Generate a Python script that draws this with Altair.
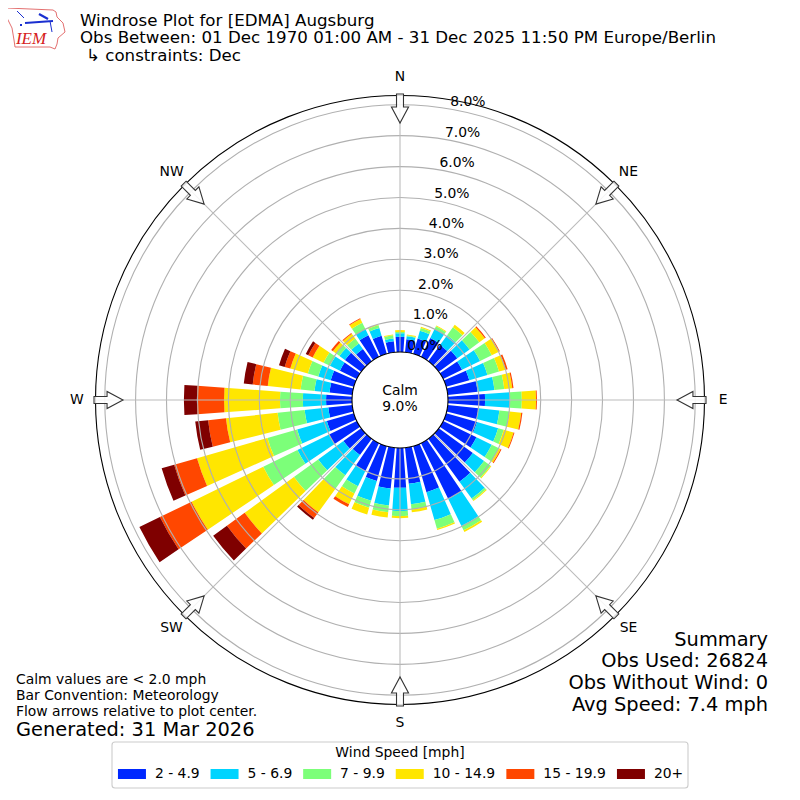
import math
import altair as alt
import pandas as pd

directions = list(range(0, 360, 10))
speeds = ["2 - 4.9", "5 - 6.9", "7 - 9.9", "10 - 14.9", "15 - 19.9", "20+"]
colors = ["#0028ff", "#00d4ff", "#7cff79", "#ffe600", "#ff4700", "#7f0000"]

# cumulative percent of observations at the top of each speed class, per direction
top_2 = [.49,.42,.52,.68,.65,.74,.68,.78,.97,1.20,1.00,1.04,1.20,1.36,1.72,2.01,1.55,1.17,1.29,1.33,1.17,1.00,.65,.71,1.00,.91,.78,.84,.74,.78,.61,.65,.49,.78,.61,.36]
top_5 = [.61,.52,.78,1.00,1.04,1.23,1.33,1.39,1.52,2.01,1.68,1.75,1.75,1.81,2.39,2.98,2.49,1.84,2.04,1.88,1.84,1.55,1.46,1.72,2.14,1.91,1.55,1.59,1.23,1.20,.97,.87,.71,1.00,.87,.45]
top_7 = [.65,.55,.87,1.10,1.36,1.62,1.75,1.78,1.84,2.39,2.01,1.94,2.01,2.07,2.46,3.14,2.78,2.01,2.20,2.10,2.07,1.81,2.01,2.69,3.37,2.91,2.43,2.33,1.68,1.55,1.20,1.00,.91,1.23,.97,.55]
top_10 = [.71,.58,.91,1.13,1.46,1.84,2.01,2.01,2.10,2.85,2.39,2.27,2.07,2.10,2.49,3.20,2.82,2.10,2.27,2.27,2.30,2.20,2.94,4.66,5.95,5.28,4.11,4.14,2.75,2.14,1.59,1.13,1.10,1.36,1.00,.58]
top_15 = [.71,.58,.91,1.13,1.46,1.88,2.04,2.07,2.14,2.88,2.43,2.30,2.10,2.10,2.49,3.20,2.82,2.10,2.27,2.27,2.30,2.30,3.17,5.37,7.09,6.05,4.69,5.02,3.24,2.33,1.75,1.20,1.13,1.39,1.00,.58]
top_20 = [.71,.58,.91,1.13,1.46,1.88,2.04,2.07,2.14,2.88,2.43,2.30,2.10,2.10,2.49,3.20,2.82,2.10,2.27,2.27,2.30,2.30,3.24,5.92,7.83,6.47,5.11,5.44,3.53,2.52,1.84,1.20,1.13,1.39,1.00,.58]

tick_values = [0, 1, 2, 3, 4, 5, 6, 7, 8]
compass = ["N", "NE", "E", "SE", "S", "SW", "W", "NW"]
compass_bearing = [0, 45, 90, 135, 180, 225, 270, 315]

title_lines = ["Windrose Plot for [EDMA] Augsburg",
               "Obs Between: 01 Dec 1970 01:00 AM - 31 Dec 2025 11:50 PM Europe/Berlin",
               "\u21b3 constraints: Dec"]
note_lines = ["Calm values are < 2.0 mph", "Bar Convention: Meteorology",
              "Flow arrows relative to plot center."]
summary_lines = ["Summary", "Obs Used: 26824", "Obs Without Wind: 0", "Avg Speed: 7.4 mph"]

FONT = "DejaVu Sans"
W = H = 784
CX = CY = 392
OFF = 8
R_MAX = 8.3
BAR = 8

th_scale = alt.Scale(domain=[0, 360], range=[0, 2 * math.pi])
r_scale = alt.Scale(type="linear", domain=[0, R_MAX], range=[48, 304.5], zero=False)

rows = []
tops = [top_2, top_5, top_7, top_10, top_15, top_20]
for i, d in enumerate(directions):
    low = 0
    for s, t in zip(speeds, tops):
        if t[i] > low:
            rows.append(dict(dir=d, a0=d - BAR / 2, a1=d + BAR / 2, speed=s, low=low, high=t[i]))
        low = t[i]
bars_df = pd.DataFrame(rows)

def th(f):
    return alt.Theta(f, type="quantitative", scale=th_scale, stack=None)

def rd(f):
    return alt.Radius(f, type="quantitative", scale=r_scale)

bars = alt.Chart(bars_df).mark_arc(strokeWidth=0).encode(
    theta=th("a0"), theta2="a1:Q", radius=rd("high"), radius2="low:Q",
    color=alt.Color("speed:N", scale=alt.Scale(domain=speeds, range=colors),
                    sort=speeds,
                    legend=alt.Legend(
                        orient="none", legendX=117, legendY=759, direction="horizontal",
                        columns=6, title=None,
                        labelFont=FONT, labelFontSize=13.9, labelColor="#000", labelOffset=16,
                        symbolType="M-2.8,-1H2.8V1H-2.8Z", symbolSize=100, symbolStrokeWidth=0,
                        columnPadding=9.6, rowPadding=0, padding=0, gridAlign="each")),
)

ring_df = pd.DataFrame({"v": [t for t in tick_values if t > 0], "a0": 0, "a1": 360})
rings = alt.Chart(ring_df).mark_arc(fillOpacity=0, stroke="#b0b0b0", strokeWidth=1.1).encode(
    theta=th("a0"), theta2="a1:Q", radius=rd("v"), radius2=alt.Radius2(value=0))

spoke_df = pd.DataFrame({"a": compass_bearing, "r0": 0.0, "r1": R_MAX})
spokes = alt.Chart(spoke_df).mark_arc(fillOpacity=0, stroke="#bcbcbc", strokeWidth=1.1).encode(
    theta=th("a"), theta2="a:Q", radius=rd("r1"), radius2="r0:Q")

outer_df = pd.DataFrame({"v": [R_MAX], "a0": [0], "a1": [360]})
outer = alt.Chart(outer_df).mark_arc(fillOpacity=0, stroke="black", strokeWidth=1.1).encode(
    theta=th("a0"), theta2="a1:Q", radius=rd("v"), radius2=alt.Radius2(value=0))

calm_df = pd.DataFrame({"v": [0], "a0": [0], "a1": [360]})
calm = alt.Chart(calm_df).mark_arc(fill="white", stroke="black", strokeWidth=1.1).encode(
    theta=th("a0"), theta2="a1:Q", radius=rd("v"), radius2=alt.Radius2(value=0))

tick_df = pd.DataFrame({"v": tick_values, "a": 10, "label": [f"{t:.1f}%" for t in tick_values]})
ticks = alt.Chart(tick_df).mark_text(font=FONT, fontSize=13.9, align="left", baseline="alphabetic",
                                     color="black", dx=-1, dy=-3).encode(
    theta=th("a"), radius=rd("v"), text="label:N")

comp_df = pd.DataFrame({"a": compass_bearing, "v": 8.9, "label": compass})
comp_text = alt.Chart(comp_df).mark_text(font=FONT, fontSize=13.9, align="center", baseline="middle", color="black").encode(
    theta=th("a"), radius=rd("v"), text="label:N")

ARROW_R = 291.5
arrow_path = "M-0.24,-1L0.24,-1L0.24,-0.1L0.59,-0.1L0,1L-0.59,-0.1L-0.24,-0.1Z"
arrow_df = pd.DataFrame({
    "x": [CX + ARROW_R * math.sin(math.radians(b)) for b in compass_bearing],
    "y": [CY - ARROW_R * math.cos(math.radians(b)) for b in compass_bearing],
    "a": compass_bearing})
arrows = alt.Chart(arrow_df).mark_point(
    shape=arrow_path, size=841, filled=True, fill="white", fillOpacity=0.85,
    stroke="#333333", strokeWidth=1.1, opacity=1).encode(
    x=alt.X("x:Q", scale=None, axis=None), y=alt.Y("y:Q", scale=None, axis=None),
    angle=alt.Angle("a:Q", scale=None))

def text_layer(lines, xs, ys, size, align="left"):
    df = pd.DataFrame({"x": [x - OFF for x in xs], "y": [y - OFF for y in ys], "t": lines})
    return alt.Chart(df).mark_text(font=FONT, fontSize=size, align=align, baseline="middle", color="black").encode(
        x=alt.X("x:Q", scale=None, axis=None), y=alt.Y("y:Q", scale=None, axis=None), text="t:N")

titles = text_layer(title_lines, [80, 80, 86], [21, 38, 56], 16.67)
notes = text_layer(note_lines, [16, 16, 16], [680, 696, 712], 13.9)
generated = text_layer(["Generated: 31 Mar 2026"], [16], [730], 19.4)
summary = text_layer(summary_lines, [768] * 4, [640, 661, 683, 705], 19.4, align="right")
calm_text = text_layer(["Calm", "9.0%"], [400, 400], [391, 407], 13.9, align="center")
legend_title = text_layer(["Wind Speed [mph]"], [400], [753], 13.9, align="center")

legend_box = alt.Chart(pd.DataFrame({"x": [112 - OFF], "x2": [688 - OFF], "y": [742 - OFF], "y2": [788 - OFF]})).mark_rect(
    fill="white", stroke="#cccccc", strokeWidth=1.1, cornerRadius=3).encode(
    x=alt.X("x:Q", scale=None, axis=None), x2="x2:Q", y=alt.Y("y:Q", scale=None, axis=None), y2="y2:Q")

# IEM logo
iowa = [(7, 8), (53, 10), (56, 12), (57, 17), (63, 23), (65, 32), (58, 38), (57, 44), (55, 49), (50, 47), (15, 47), (14, 40), (12, 28), (7, 18), (7, 8)]
logo_thin = [[(17, 11), (24, 18)], [(50, 21), (52, 32)]]
logo_thick = [[(25, 23), (53, 21)], [(39, 14), (48, 19)], [(20, 25), (22, 25)]]
def poly(pts, color, width):
    df = pd.DataFrame({"x": [p[0] - OFF for p in pts], "y": [p[1] - OFF for p in pts], "o": range(len(pts))})
    return alt.Chart(df).mark_line(color=color, strokeWidth=width, interpolate="linear").encode(
        x=alt.X("x:Q", scale=None, axis=None), y=alt.Y("y:Q", scale=None, axis=None), order="o:Q")
logo = [poly(iowa, "#e06060", 0.9)] + [poly(p, "#1a2fd0", 1) for p in logo_thin] + [poly(p, "#1a2fd0", 2.2) for p in logo_thick]
logo_text = alt.Chart(pd.DataFrame({"x": [31 - OFF], "y": [39 - OFF], "t": ["IEM"]})).mark_text(
    font="Liberation Serif", fontSize=17, fontStyle="italic", color="#d62020", align="center", baseline="middle").encode(
    x=alt.X("x:Q", scale=None, axis=None), y=alt.Y("y:Q", scale=None, axis=None), text="t:N")

chart = alt.layer(
    legend_box, bars, rings, spokes, outer, calm, arrows, ticks, comp_text, calm_text,
    titles, notes, generated, summary, legend_title, *logo, logo_text
).properties(width=W, height=H, padding=0, autosize=alt.AutoSizeParams(type="none")).configure_view(stroke=None)

chart.save("out.html", embed_options={"renderer": "svg", "actions": False})
